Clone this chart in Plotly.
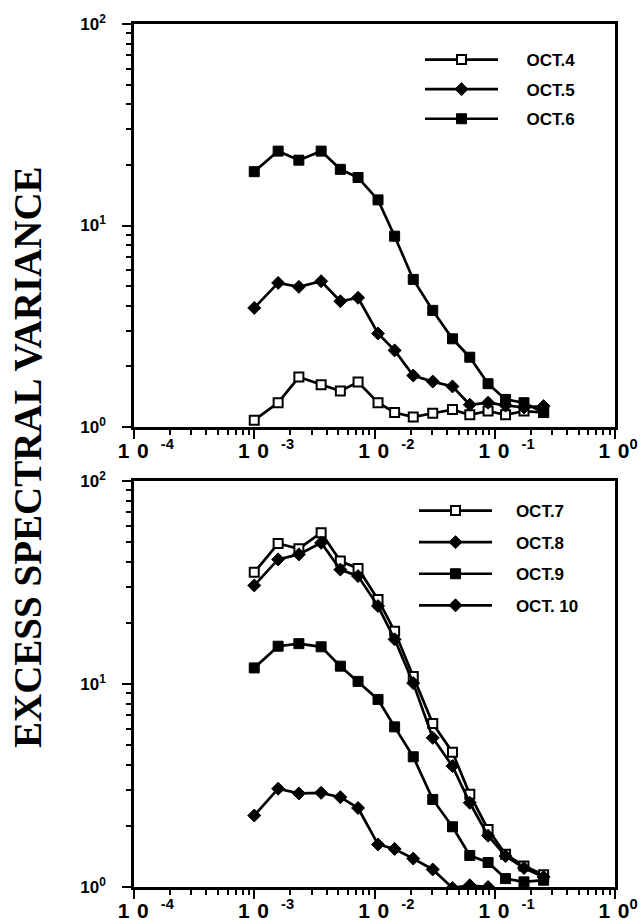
import plotly.graph_objects as go

# ---------------- data ----------------
freq = [1.0e-3, 1.58e-3, 2.35e-3, 3.6e-3, 5.2e-3, 7.3e-3, 1.07e-2, 1.47e-2,
        2.1e-2, 3.05e-2, 4.45e-2, 6.2e-2, 8.8e-2, 0.123, 0.175, 0.255]

oct4 = [1.08, 1.32, 1.77, 1.62, 1.51, 1.67, 1.32, 1.18, 1.12, 1.17, 1.22, 1.15, 1.20, 1.15, 1.20, 1.18]
oct5 = [3.90, 5.19, 4.96, 5.29, 4.21, 4.38, 2.91, 2.40, 1.80, 1.68, 1.59, 1.29, 1.32, 1.28, 1.25, 1.27]
oct6 = [18.5, 23.4, 21.1, 23.4, 19.0, 17.3, 13.4, 8.85, 5.40, 3.79, 2.74, 2.22, 1.64, 1.37, 1.32, 1.18]

oct7 = [35.5, 49.2, 46.4, 55.6, 40.3, 37.1, 26.1, 18.2, 10.9, 6.39, 4.61, 2.86, 1.92, 1.45, 1.27, 1.15]
oct8 = [30.6, 41.1, 43.5, 49.6, 36.6, 34.0, 24.2, 16.6, 10.1, 5.43, 3.94, 2.60, 1.79, 1.42, 1.24, 1.12]
oct9 = [12.0, 15.35, 15.8, 15.25, 12.24, 10.3, 8.39, 6.15, 4.38, 2.70, 1.98, 1.43, 1.32, 1.10, 1.06, 1.08]
oct10 = [2.25, 3.05, 2.89, 2.91, 2.77, 2.45, 1.62, 1.54, 1.38, 1.22, 0.99, 1.02, 1.00]

NB = "\u00a0"
x_tickvals = [1e-4, 1e-3, 1e-2, 1e-1, 1]
x_ticktext = [NB * 3 + "1" + NB + "\u200a0<sup>" + NB * 3 + "-4</sup>",
              NB * 3 + "1" + NB + "\u200a0<sup>" + NB * 3 + "-3</sup>",
              NB * 3 + "1" + NB + "\u200a0<sup>" + NB * 3 + "-2</sup>",
              NB * 3 + "1" + NB + "\u200a0<sup>" + NB * 3 + "-1</sup>",
              "1" + NB + "\u200a0<sup>0</sup>"]
y_tickvals = [1, 10, 100]
y_ticktext = ["10<sup>0</sup>", "10<sup>1</sup>", "10<sup>2</sup>"]

y_title = "EXCESS SPECTRAL VARIANCE"

# ---------------- figure ----------------
W, H = 642, 921
fig = go.Figure()

SANS = "Liberation Sans, Arial, sans-serif"
SERIF = "Liberation Serif, Times New Roman, serif"

styles = {
    "open_square": dict(symbol="square", size=9, color="white", line=dict(color="black", width=2)),
    "diamond": dict(symbol="diamond", size=10, color="black", line=dict(color="black", width=1)),
    "square": dict(symbol="square", size=10, color="black", line=dict(color="black", width=1)),
}


def add(name, y, style, xa, ya, legend, pad):
    fig.add_trace(go.Scatter(
        x=freq[:len(y)], y=y, mode="lines+markers", name=NB * pad + name,
        line=dict(color="black", width=2.7),
        marker=styles[style], legendgroup=name,
        xaxis=xa, yaxis=ya, legend=legend,
    ))


add("OCT.4", oct4, "open_square", "x", "y", "legend", 5)
add("OCT.5", oct5, "diamond", "x", "y", "legend", 5)
add("OCT.6", oct6, "square", "x", "y", "legend", 5)
add("OCT.7", oct7, "open_square", "x2", "y2", "legend2", 4)
add("OCT.8", oct8, "diamond", "x2", "y2", "legend2", 4)
add("OCT.9", oct9, "square", "x2", "y2", "legend2", 4)
add("OCT. 10", oct10, "diamond", "x2", "y2", "legend2", 4)

minor_vals_x = [k * 10 ** e for e in range(-4, 0) for k in range(2, 10)]
minor_vals_y = [k * 10 ** e for e in range(0, 2) for k in range(2, 10)]

xdom = [134 / W, 615 / W]
top_dom = [1 - 427 / H, 1 - 24 / H]
bot_dom = [1 - 887 / H, 1 - 481 / H]

xaxis_common = dict(
    type="log", range=[-4, 0], showline=True, linecolor="black", linewidth=2.5,
    mirror=True, ticks="outside", ticklen=9, tickwidth=2.2, tickcolor="black",
    showgrid=False, zeroline=False, tickmode="array", tickvals=x_tickvals,
    ticktext=x_ticktext, automargin=False, ticklabelshift=3,
    ticklabelstandoff=-6, ticklabeloverflow="allow",
    tickfont=dict(family=SANS, size=21, color="black", weight="bold"),
    minor=dict(ticks="outside", ticklen=5, tickwidth=2, tickcolor="black",
               tickmode="array", tickvals=minor_vals_x, showgrid=False),
    domain=xdom,
)
yaxis_common = dict(
    type="log", range=[0, 2], showline=True, linecolor="black", linewidth=2.5,
    mirror=True, ticks="outside", ticklen=9, tickwidth=2.2, tickcolor="black",
    showgrid=False, zeroline=False, tickmode="array", tickvals=y_tickvals,
    ticktext=y_ticktext, automargin=False, ticklabelstandoff=13,
    tickfont=dict(family=SANS, size=17, color="black", weight="bold"),
    minor=dict(ticks="outside", ticklen=5, tickwidth=2, tickcolor="black",
               tickmode="array", tickvals=minor_vals_y, showgrid=False),
)

legend_common = dict(
    font=dict(family=SANS, size=17, color="black", weight="bold"),
    bgcolor="rgba(0,0,0,0)", itemwidth=73,
    xanchor="left", yanchor="top",
)

fig.update_layout(
    width=W, height=H,
    margin=dict(l=0, r=0, t=0, b=0, autoexpand=False),
    paper_bgcolor="white", plot_bgcolor="white",
    showlegend=True,
    xaxis=dict(xaxis_common, anchor="y"),
    yaxis=dict(yaxis_common, anchor="x", domain=top_dom),
    xaxis2=dict(xaxis_common, anchor="y2"),
    yaxis2=dict(yaxis_common, anchor="x2", domain=bot_dom),
    legend=dict(legend_common, x=420 / W, y=1 - 42 / H, tracegroupgap=4.5),
    legend2=dict(legend_common, x=414 / W, y=1 - 493 / H, tracegroupgap=6.5),
    annotations=[dict(
        text=y_title, xref="paper", yref="paper", x=27 / W, y=1 - 457 / H,
        showarrow=False, textangle=-90, xanchor="center", yanchor="middle",
        font=dict(family=SERIF, size=39, color="black", weight="bold"),
    )],
)

fig.write_html("out.html")
